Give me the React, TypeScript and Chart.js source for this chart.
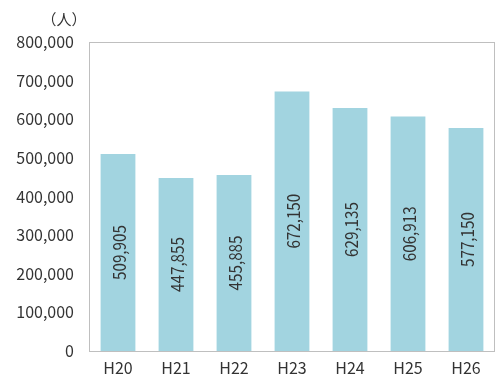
import React, { useEffect, useRef } from "react";
import { Chart, registerables } from "chart.js";

Chart.register(...registerables);

const categories = ["H20", "H21", "H22", "H23", "H24", "H25", "H26"];
const values = [509905, 447855, 455885, 672150, 629135, 606913, 577150];
const unitLabel = "（人）";
const yMax = 800000;
const yStep = 100000;

const FONT = "'Noto Sans CJK JP', 'DejaVu Sans', sans-serif";
const TEXT = "#333333";

const fmt = (v: number) => (v === 0 ? "0" : v.toLocaleString("en-US"));

const extras = {
  id: "extras",
  afterDatasetsDraw(chart: any) {
    const { ctx, chartArea } = chart;
    ctx.save();
    ctx.strokeStyle = "#bfbfbf";
    ctx.lineWidth = 1;
    ctx.strokeRect(
      Math.round(chartArea.left) + 0.5,
      Math.round(chartArea.top) + 0.5,
      Math.round(chartArea.right - chartArea.left) - 1,
      Math.round(chartArea.bottom - chartArea.top)
    );
    const meta = chart.getDatasetMeta(0);
    ctx.fillStyle = TEXT;
    ctx.font = `16px ${FONT}`;
    ctx.textAlign = "center";
    ctx.textBaseline = "middle";
    meta.data.forEach((bar: any, i: number) => {
      const cx = bar.x;
      const cy = (bar.y + bar.base) / 2;
      ctx.save();
      ctx.translate(cx, cy);
      ctx.rotate(-Math.PI / 2);
      ctx.scale(0.95, 1.08);
      ctx.fillText(fmt(values[i]), 0, 1);
      ctx.restore();
    });
    ctx.font = `15px ${FONT}`;
    ctx.textAlign = "center";
    ctx.fillText(unitLabel, 64, 19);
    ctx.restore();
  },
};

export default function App() {
  const ref = useRef<HTMLCanvasElement>(null);
  useEffect(() => {
    document.body.style.margin = "0";
    const chart = new Chart(ref.current!, {
      type: "bar",
      data: {
        labels: categories,
        datasets: [
          {
            data: values,
            backgroundColor: "#a2d4e0",
            borderWidth: 0,
            categoryPercentage: 1,
            barPercentage: 0.6,
          },
        ],
      },
      options: {
        responsive: false,
        animation: false,
        layout: { padding: { top: 42, right: 1, left: 0, bottom: 0 } },
        plugins: { legend: { display: false }, tooltip: { enabled: false } },
        scales: {
          x: {
            grid: { display: false, drawTicks: false },
            border: { display: false },
            ticks: {
              color: TEXT,
              font: { family: FONT, size: 16, lineHeight: 1 },
              padding: 9,
              maxRotation: 0,
            },
            afterFit: (s: any) => {
              s.height = 27;
            },
          },
          y: {
            min: 0,
            max: yMax,
            grid: { display: false, drawTicks: false },
            border: { display: false },
            ticks: {
              stepSize: yStep,
              color: TEXT,
              font: { family: FONT, size: 16 },
              padding: 15,
              callback: (v: any) => fmt(Number(v)),
            },
            afterFit: (s: any) => {
              s.width = 89;
            },
          },
        },
      },
      plugins: [extras],
    });
    return () => chart.destroy();
  }, []);
  return <canvas ref={ref} width={496} height={378} style={{ display: "block" }} />;
}
